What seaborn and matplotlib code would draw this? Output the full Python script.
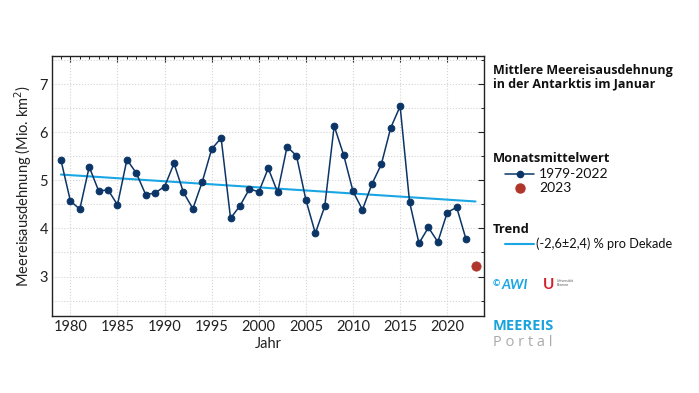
import numpy as np
import pandas as pd
import matplotlib
matplotlib.use("Agg")
import matplotlib.pyplot as plt
from matplotlib.ticker import MultipleLocator
import seaborn as sns

years = list(range(1979, 2023))
extent = [5.42, 4.57, 4.40, 5.28, 4.78, 4.80, 4.49, 5.43, 5.15, 4.70,
          4.74, 4.87, 5.35, 4.75, 4.41, 4.97, 5.65, 5.88, 4.21, 4.47,
          4.82, 4.76, 5.25, 4.75, 5.70, 5.51, 4.59, 3.90, 4.46, 6.13,
          5.53, 4.77, 4.39, 4.92, 5.33, 6.09, 6.54, 4.55, 3.69, 4.02,
          3.72, 4.33, 4.44, 3.77]
year_new = [2023]
extent_new = [3.22]
trend_years = [1979, 2023]
trend_values = [5.12, 4.56]
trend_label = "(-2,6±2,4) % pro Dekade"
xticks = [1980, 1985, 1990, 1995, 2000, 2005, 2010, 2015, 2020]
yticks = [3, 4, 5, 6, 7]

NAVY = "#0b3566"
CYAN = "#1aa6e4"
RED = "#b0362c"

sns.set_theme(style="white")
plt.rcParams["font.family"] = ["Lato", "DejaVu Sans"]

fig = plt.figure(figsize=(6.99, 3.93), dpi=100)
ax = fig.add_axes([0.0744, 0.196, 0.618, 0.661])

df = pd.DataFrame({"Jahr": years, "extent": extent})
dft = pd.DataFrame({"Jahr": trend_years, "extent": trend_values})

sns.lineplot(data=dft, x="Jahr", y="extent", ax=ax, color=CYAN, lw=1.5, zorder=2)
sns.lineplot(data=df, x="Jahr", y="extent", ax=ax, color=NAVY, lw=1.1,
             marker="o", markersize=4.8, markeredgecolor=NAVY, zorder=3)
sns.scatterplot(x=year_new, y=extent_new, ax=ax, color=RED, s=45,
                edgecolor=RED, zorder=4)

ax.set_xlim(1978.05, 2023.9)
ax.set_ylim(2.18, 7.58)
ax.set_xticks(xticks)
ax.set_yticks(yticks)
ax.xaxis.set_minor_locator(MultipleLocator(1))
ax.yaxis.set_minor_locator(MultipleLocator(0.5))
ax.grid(True, which="major", axis="x", color="#d4d4d4", ls=":", lw=0.8)
ax.grid(True, which="both", axis="y", color="#d4d4d4", ls=":", lw=0.8)
ax.tick_params(axis="both", which="both", direction="in", top=True, right=True,
               labelsize=10.5, colors="#222222", pad=3)
ax.tick_params(which="major", length=4, width=0.8)
ax.tick_params(which="minor", length=2.5, width=0.7)
for s in ax.spines.values():
    s.set_color("#222222")
    s.set_linewidth(1.0)
ax.set_xlabel("Jahr", fontsize=10.5, color="#222222", labelpad=2)
ax.set_ylabel("Meereisausdehnung (Mio. km$^2$)", fontsize=10.5, color="#222222", labelpad=4)

# right-side panel
X0 = 493 / 699
def fy(py):
    return 1 - py / 393

BOLD = ["Open Sans", "DejaVu Sans"]
fig.text(X0, fy(77), "Mittlere Meereisausdehnung\nin der Antarktis im Januar",
         fontsize=9.0, fontweight="bold", va="center", ha="left", color="#111111",
         linespacing=1.05, family=BOLD)
fig.text(X0, fy(159), "Monatsmittelwert", fontsize=9.3, fontweight="bold",
         va="center", ha="left", color="#111111", family=BOLD)
fig.lines.append(plt.Line2D([505/699, 534/699], [fy(174), fy(174)], color=NAVY,
                            lw=1.1, transform=fig.transFigure))
fig.lines.append(plt.Line2D([519.5/699], [fy(174)], color=NAVY, marker="o",
                            markersize=4.5, lw=0, transform=fig.transFigure))
fig.text(539/699, fy(174), "1979-2022", fontsize=10, va="center", ha="left", color="#111111")
fig.lines.append(plt.Line2D([519.5/699], [fy(188)], color=RED, marker="o",
                            markersize=6.5, lw=0, transform=fig.transFigure))
fig.text(539/699, fy(188), "2023", fontsize=10, va="center", ha="left", color="#111111")
fig.text(X0, fy(229), "Trend", fontsize=9.3, fontweight="bold",
         va="center", ha="left", color="#111111", family=BOLD)
fig.lines.append(plt.Line2D([505/699, 534/699], [fy(244), fy(244)], color=CYAN,
                            lw=1.5, transform=fig.transFigure))
fig.text(536/699, fy(244), trend_label, fontsize=9.2, va="center", ha="left", color="#111111")

# logos (text approximations)
fig.text(493/699, fy(284), "©", fontsize=6.5, va="center", ha="left", color=CYAN, fontweight="bold")
fig.text(502/699, fy(285), "AWI", fontsize=10, va="center", ha="left", color=CYAN,
         fontweight="bold", style="italic")
fig.text(543/699, fy(285), "U", fontsize=11, va="center", ha="left", color="#d4202a",
         fontweight="bold")
fig.text(557/699, fy(283), "Universität\nBremen", fontsize=2.5, va="center", ha="left",
         color="#555555", linespacing=1.0)
fig.text(493/699, fy(326), "MEEREIS", fontsize=10.5, va="center", ha="left", color="#19a3dd",
         fontweight="bold", family=BOLD)
fig.text(493/699, fy(342), "P o r t a l", fontsize=10.5, va="center", ha="left", color="#aaaaaa",
         family=BOLD)

fig.savefig("out.png", dpi=100)
